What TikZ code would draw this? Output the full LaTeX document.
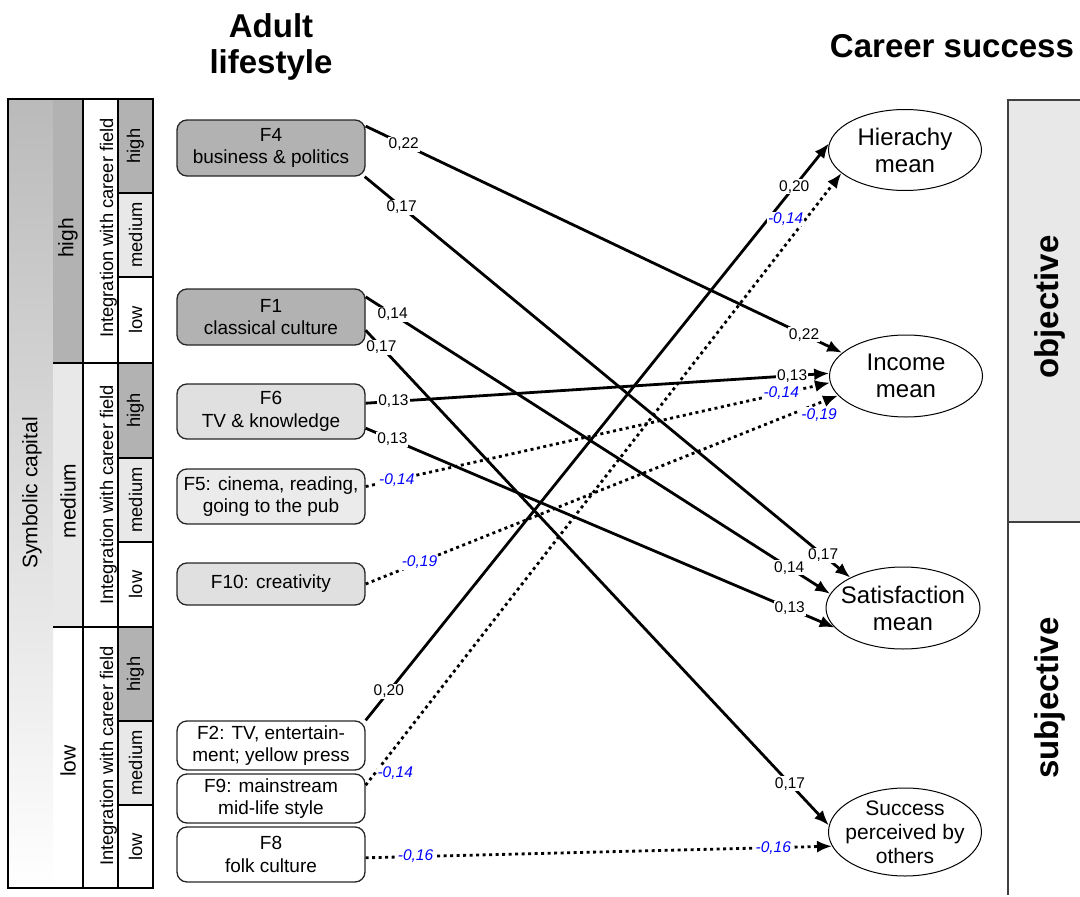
\documentclass[tikz,border=0pt]{standalone}
\usepackage{fontspec}
\setmainfont{Liberation Sans}
\usetikzlibrary{shapes,arrows.meta}
\tikzstyle{factor} = [draw=black!85,line width=1.3pt,rectangle,rounded corners=10pt,minimum width=188pt,inner sep=0,align=center,font=\fontsize{19}{22.5}\selectfont]
\tikzstyle{outcome} = [draw,line width=1pt,ellipse,inner sep=-12pt,minimum width=153pt,minimum height=82pt,align=center,font=\fontsize{24}{27}\selectfont]
\tikzstyle{effect} = [line width=2.8pt,-{Latex[length=15pt,width=12pt]}]
\tikzstyle{negeffect} = [effect,dash pattern=on 3pt off 3.5pt]
\tikzstyle{coef} = [fill=white,inner sep=1pt,font=\fontsize{15.5}{17}\selectfont]
\tikzstyle{negcoef} = [coef,text=blue,font=\fontsize{15.5}{17}\selectfont\itshape]
\tikzstyle{head} = [inner sep=0,align=center,font=\fontsize{33}{36}\selectfont\bfseries]
\tikzstyle{level} = [rotate=90,inner sep=0]
\tikzstyle{frame} = [line width=1.3pt]
\def \big {\fontsize{21}{24}\selectfont}
\def \small {\fontsize{18.3}{20}\selectfont}

\begin{document}
\begin{tikzpicture}[x=1pt,y=-1pt]
  \useasboundingbox (0,0) rectangle (1080,897);
  % grouping columns on the left
  \shade[top color=black!27,bottom color=white] (8,99) rectangle (53,888);
  \fill[black!30] (53,99) rectangle (83,363);
  \fill[black!9] (53,363) rectangle (83,627);
  \foreach \t/\b/\c in {99/193/black!30,193/277/black!9,277/363/white,363/458/black!30,458/542/black!9,542/627/white,627/721/black!30,721/805/black!9,805/888/white}
    \draw[frame,fill=\c] (118,\t) rectangle (153,\b);
  \draw[frame] (153,99) -- (8,99) -- (8,888) -- (153,888);
  \draw[frame] (83,99) -- (83,888) (118,99) -- (118,888);
  \draw[frame] (53,363) -- (118,363) (53,627) -- (118,627);
  \node[level,font=\big] (symcap) at (32,493) {Symbolic capital};
  \foreach \y/\lab in {238/high,501/medium,761/low}
    \node[level,font=\big] (sc\lab) at (68,\y) {\lab};
  \foreach \y [count=\i] in {228,495,756}
    \node[level,font=\small] (integ\i) at (108.5,\y) {Integration with career field};
  \foreach \y/\lab [count=\i] in {146/high,235/medium,320/low,410.5/high,500/medium,584.5/low,674/high,763/medium,846.5/low}
    \node[level,font=\small] (lev\i) at (135.5,\y) {\lab};

  % panels on the right
  \fill[black!9] (1008,100) rectangle (1080,522);
  \draw[frame,black!75] (1080,100) -- (1008,100) -- (1008,895) (1008,522) -- (1080,522);
  \node[head,rotate=90] (obj) at (1050,307) {objective};
  \node[head,rotate=90] (subj) at (1050,698) {subjective};

  \node[head] (lifestyle) at (271,46.5) {Adult\\lifestyle};
  \node[head,anchor=base] (career) at (952,57) {Career success};

  % lifestyle factors
  \node[factor,fill=black!30,minimum height=56pt] (f4) at (271,148) {F4\\business \& politics};
  \node[factor,fill=black!30,minimum height=56pt] (f1) at (271,317) {F1\\classical culture};
  \node[factor,fill=black!12,minimum height=55pt] (f6) at (271,411.5) {F6\\TV \& knowledge};
  \node[factor,fill=black!8,minimum height=55pt] (f5) at (271,496.5) {F5: cinema, reading,\\going to the pub};
  \node[factor,fill=black!12,minimum height=42pt] (f10) at (271,584) {F10: creativity};
  \node[factor,minimum height=49pt] (f2) at (271,745.5) {F2: TV, entertain-\\ment; yellow press};
  \node[factor,minimum height=49pt] (f9) at (271,798.5) {F9: mainstream\\mid-life style};
  \node[factor,minimum height=55pt] (f8) at (271,854.5) {F8\\folk culture};

  % career success
  \node[outcome,minimum height=81pt] (hier) at (905,150) {Hierachy\\mean};
  \node[outcome] (inc) at (906,376) {Income\\mean};
  \node[outcome,minimum width=154pt] (sat) at (903,608) {Satisfaction\\mean};
  \node[outcome,minimum height=88pt,font=\fontsize{21}{24}\selectfont] (succ) at (905,832) {Success\\perceived by\\others};

  % paths
  \draw[effect] (f4.13) -- node[coef,pos=.08]{0,22} node[coef,pos=.92]{0,22} (inc.160);
  \draw[effect] (f4.-17) -- node[coef,pos=.076]{0,17} node[coef,pos=.944]{0,17} (sat.150);
  \draw[effect] (f1.12) -- node[coef,pos=.058]{0,14} node[coef,pos=.912]{0,14} (sat.169);
  \draw[effect] (f1.-8) -- node[coef,pos=.034]{0,17} node[coef,pos=.916]{0,17} (succ.175);
  \draw[effect] (f6.5) -- node[coef,pos=.06]{0,13} node[coef,pos=.92]{0,13} (inc.178);
  \draw[effect] (f6.-10) -- node[coef,pos=.057]{0,13} node[coef,pos=.904]{0,13} (sat.196);
  \draw[negeffect] (f5.6) -- node[negcoef,pos=.067]{-0,14} node[negcoef,pos=.895]{-0,14} (inc.185);
  \draw[negeffect] (f10.east) -- node[negcoef,pos=.114]{-0,19} node[negcoef,pos=.96,below=3pt]{-0,19} (inc.196);
  \draw[effect] (f2.north east) -- node[coef,pos=.05]{0,20} node[coef,pos=.925]{0,20} (hier.175);
  \draw[negeffect] (f9.8) -- node[negcoef,pos=.02,anchor=west]{-0,14} node[negcoef,pos=.925,left=0pt]{-0,14} (hier.200);
  \draw[negeffect] (f8.-2) -- node[negcoef,pos=.107]{-0,16} node[negcoef,pos=.874]{-0,16} (succ.191);
\end{tikzpicture}
\end{document}
